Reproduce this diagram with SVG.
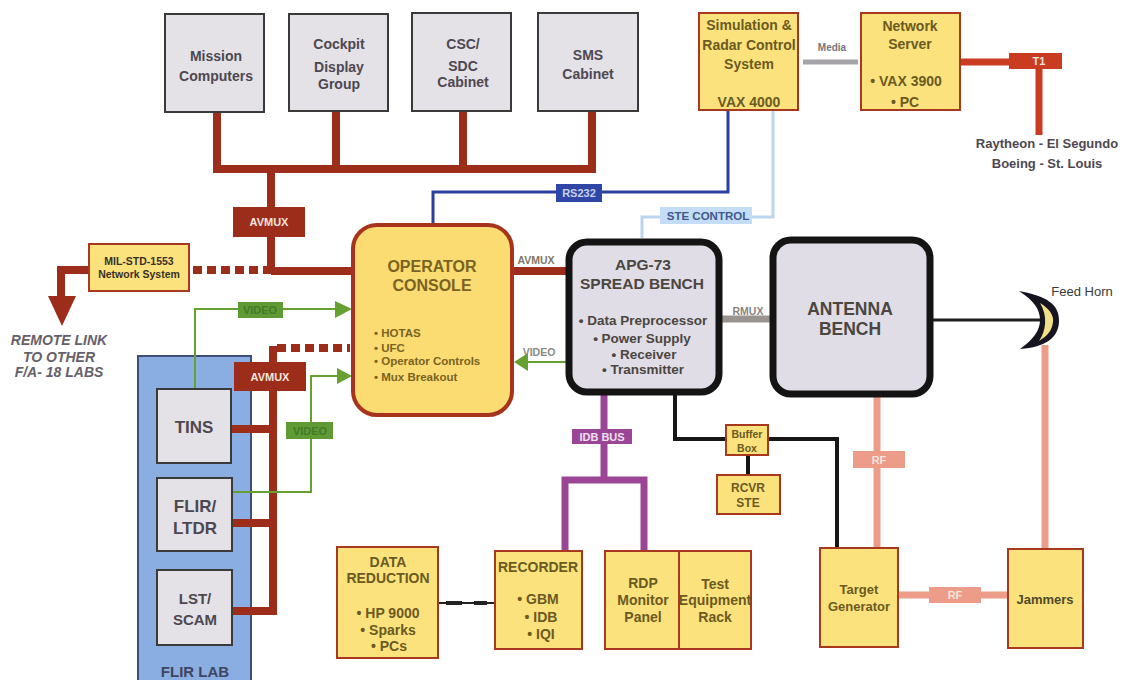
<svg xmlns="http://www.w3.org/2000/svg" width="1123" height="680" viewBox="0 0 1123 680">
<style>
text{font-family:"Liberation Sans",Arial,sans-serif;text-anchor:middle;font-weight:700}
.g{fill:#e4e1e7;stroke:#3a3a3a;stroke-width:2}
.y{fill:#fbe27c;stroke:#a8391f;stroke-width:2}
.b{fill:#e0dde6;stroke:#141414;stroke-width:7}
.tg{fill:#4d4850;font-size:14px}
.ty{fill:#6b5a22;font-size:14px}
.tk{fill:#4b4640;font-size:14px}
.w{fill:#f4e4dc;font-size:11px}
.mux{fill:none;stroke:#9c2d1a;stroke-width:8}
.vid{fill:none;stroke:#66a030;stroke-width:2}
.blk{fill:none;stroke:#161616;stroke-width:4}
.rf{fill:none;stroke:#ee9c8a;stroke-width:7}
.idb{fill:none;stroke:#9a4596;stroke-width:7}
</style>
<g id="flir-lab"><rect x="138" y="356" width="113" height="330" fill="#8aade2" stroke="#3d4f78" stroke-width="2"/><text x="195" y="677" font-size="15" fill="#3f4560">FLIR LAB</text></g>
<g id="connectors">
<path class="mux" d="M217 112V169M336 111V169M463 111V169M592 111V169M213 169H596M271 169V272M271 271H352"/>
<path class="mux" d="M193 270H271" stroke-dasharray="9 5"/>
<path class="mux" d="M89 270H61V298"/>
<polygon points="48,296 76,296 62,326" fill="#9c2d1a"/>
<path class="mux" d="M273 346V614M232 429H273M232 523H273M232 611H277"/>
<path class="mux" d="M277 348H350" stroke-dasharray="9 5"/>
<path class="vid" d="M195 389V309H337"/>
<polygon points="335,301 335,318 352,309" fill="#66a030"/>
<path class="vid" d="M232 492H311V376H338"/>
<polygon points="337,368 337,384 352,376" fill="#66a030"/>
<path class="mux" d="M512 271H567"/>
<path class="vid" d="M567 362H525"/>
<polygon points="528,353 528,371 514,362" fill="#66a030"/>
<path d="M433 224V192H728V110" fill="none" stroke="#2a3f9e" stroke-width="3"/>
<path d="M642 238V217H773V110" fill="none" stroke="#bcd6f2" stroke-width="3"/>
<path d="M803 62H858" fill="none" stroke="#a5a3a8" stroke-width="5"/>
<path d="M960 62H1040M1039 62V135" fill="none" stroke="#c93c22" stroke-width="7"/>
<path d="M720 319H771" fill="none" stroke="#9a9490" stroke-width="7"/>
<path d="M930 320H1042" fill="none" stroke="#202020" stroke-width="3"/>
<path class="rf" d="M877 394V548M1045 345V549M898 595H1008"/>
<path class="blk" d="M675 392V439H726M768 439H837V548M748 455V475"/>
<path class="idb" d="M604 392V480M565 550V480H644V550"/>
<path d="M438 603H495" fill="none" stroke="#222" stroke-width="2"/>
<path d="M446 603H462M474 603H487" fill="none" stroke="#222" stroke-width="4"/>
</g>
<g id="mission"><rect class="g" x="165" y="14" width="99" height="98"/><text class="tg" x="216" y="61">Mission</text><text class="tg" x="216" y="81">Computers</text></g>
<g id="cockpit"><rect class="g" x="289" y="14" width="99" height="97"/><text class="tg" x="339" y="49">Cockpit</text><text class="tg" x="339" y="72">Display</text><text class="tg" x="339" y="89">Group</text></g>
<g id="csc"><rect class="g" x="412" y="13" width="99" height="98"/><text class="tg" x="463" y="49">CSC/</text><text class="tg" x="463" y="71">SDC</text><text class="tg" x="463" y="87">Cabinet</text></g>
<g id="sms"><rect class="g" x="538" y="13" width="100" height="98"/><text class="tg" x="588" y="60">SMS</text><text class="tg" x="588" y="79">Cabinet</text></g>
<g id="sim"><rect class="y" x="699" y="13" width="99" height="97"/><text class="ty" x="749" y="30">Simulation &amp;</text><text class="ty" x="749" y="50">Radar Control</text><text class="ty" x="749" y="69">System</text><text class="ty" x="749" y="107">VAX 4000</text></g>
<g id="server"><rect class="y" x="861" y="13" width="99" height="97"/><text class="ty" x="910" y="31">Network</text><text class="ty" x="910" y="49">Server</text><text class="ty" x="906" y="86">• VAX 3900</text><text class="ty" x="905" y="107">• PC</text></g>
<g id="t1"><rect x="1009" y="53" width="53" height="16" fill="#c93c22"/><text class="w" x="1039" y="65">T1</text><text class="tg" x="1047" y="148" style="font-size:13px">Raytheon - El Segundo</text><text class="tg" x="1047" y="168" style="font-size:13px">Boeing - St. Louis</text></g>
<text id="media" x="832" y="51" style="font-size:10px" fill="#77757a">Media</text>
<g id="avmux1"><rect x="233" y="207" width="72" height="30" fill="#9c2d1a"/><text class="w" x="269" y="226">AVMUX</text></g>
<g id="avmux2"><rect x="234" y="362" width="72" height="29" fill="#9c2d1a"/><text class="w" x="270" y="381">AVMUX</text></g>
<g id="mil"><rect class="y" x="89" y="244" width="100" height="47"/><text x="139" y="265" style="font-size:10.5px" fill="#3a3024">MIL-STD-1553</text><text x="139" y="278" style="font-size:10.5px" fill="#3a3024">Network System</text></g>
<g id="remote" fill="#66606a" style="font-size:14px;font-style:italic"><text x="59" y="345">REMOTE LINK</text><text x="59" y="362">TO OTHER</text><text x="59" y="377">F/A- 18 LABS</text></g>
<g id="video1"><rect x="238" y="302" width="45" height="16" fill="#5f9a35"/><text x="260" y="314" style="font-size:11px" fill="#447a28">VIDEO</text></g>
<g id="video2"><rect x="286" y="422" width="47" height="17" fill="#5f9a35"/><text x="310" y="435" style="font-size:11px" fill="#447a28">VIDEO</text></g>
<g id="tins"><rect class="g" x="157" y="389" width="74" height="74"/><text class="tg" x="194" y="433" style="font-size:17px">TINS</text></g>
<g id="flir"><rect class="g" x="157" y="478" width="75" height="73"/><text class="tg" x="195" y="512" style="font-size:17px">FLIR/</text><text class="tg" x="195" y="534" style="font-size:17px">LTDR</text></g>
<g id="lst"><rect class="g" x="157" y="570" width="75" height="75"/><text class="tg" x="195" y="604" style="font-size:15px">LST/</text><text class="tg" x="195" y="625" style="font-size:15px">SCAM</text></g>
<g id="console"><rect x="353" y="225" width="159" height="190" rx="24" fill="#fbdc72" stroke="#a8331c" stroke-width="4"/><g fill="#7a6322"><text x="432" y="272" style="font-size:16px">OPERATOR</text><text x="432" y="291" style="font-size:16px">CONSOLE</text></g>
<g fill="#7a6322" style="font-size:11.5px"><text x="374" y="337" style="text-anchor:start">• HOTAS</text><text x="374" y="352" style="text-anchor:start">• UFC</text><text x="374" y="365" style="text-anchor:start">• Operator Controls</text><text x="374" y="381" style="text-anchor:start">• Mux Breakout</text></g></g>
<text id="avmux3" x="536" y="264" style="font-size:10.5px" fill="#7f7868">AVMUX</text>
<text id="video3" x="539" y="356" style="font-size:10.5px" fill="#8a8a80">VIDEO</text>
<g id="apg"><rect class="b" x="569" y="242" width="150" height="150" rx="18"/><text class="tk" x="643" y="270" style="font-size:15.5px">APG-73</text><text class="tk" x="642" y="289" style="font-size:15.5px">SPREAD BENCH</text><g fill="#4b4640" style="font-size:13.5px"><text x="643" y="325">• Data Preprocessor</text><text x="642" y="343">• Power Supply</text><text x="644" y="359">• Receiver</text><text x="643" y="374">• Transmitter</text></g></g>
<g id="rs232"><rect x="556" y="184" width="46" height="18" fill="#2f46a6"/><text x="579" y="197" style="font-size:11px" fill="#c8d0ec">RS232</text></g>
<g id="ste"><rect x="660" y="207" width="92" height="17" fill="#c4dcf5"/><text x="708" y="220" style="font-size:11.5px" fill="#3d5a8c">STE CONTROL</text></g>
<text id="rmux" x="748" y="315" style="font-size:10.5px" fill="#8a8480">RMUX</text>
<g id="antenna"><rect class="b" x="773" y="240" width="157" height="154" rx="18"/><text class="tk" x="850" y="315" style="font-size:17.5px">ANTENNA</text><text class="tk" x="850" y="335" style="font-size:17.5px">BENCH</text></g>
<g id="horn"><path d="M1019 291C1046 296 1060 304 1059 322C1058 338 1046 347 1020 349C1034 339 1040 330 1040 320C1040 309 1033 300 1019 291Z" fill="#161420"/><path d="M1040 303C1050 309 1054 316 1053 322C1052 331 1047 336 1039 341C1046 331 1048 316 1040 303Z" fill="#f0e088"/><text x="1082" y="296" style="font-size:13px;font-weight:400" fill="#3a3a3a">Feed Horn</text></g>
<g id="rf1"><rect x="853" y="451" width="52" height="17" fill="#ee9c8a"/><text class="w" x="879" y="464">RF</text></g>
<g id="rf2"><rect x="929" y="587" width="52" height="16" fill="#ee9c8a"/><text class="w" x="955" y="599">RF</text></g>
<g id="target"><rect class="y" x="820" y="548" width="78" height="99"/><text class="ty" x="859" y="594" style="font-size:13px">Target</text><text class="ty" x="859" y="611" style="font-size:13px">Generator</text></g>
<g id="jammers"><rect class="y" x="1008" y="549" width="75" height="99"/><text class="ty" x="1045" y="604" style="font-size:13px;fill:#4f4a2a">Jammers</text></g>
<g id="buffer"><rect class="y" x="726" y="425" width="42" height="30"/><text class="ty" x="747" y="438" style="font-size:10.5px">Buffer</text><text class="ty" x="747" y="452" style="font-size:10.5px">Box</text></g>
<g id="rcvr"><rect class="y" x="717" y="475" width="63" height="39"/><text class="ty" x="748" y="492" style="font-size:12px">RCVR</text><text class="ty" x="748" y="507" style="font-size:12px">STE</text></g>
<g id="idbbus"><rect x="572" y="429" width="60" height="15" fill="#9a4596"/><text x="602" y="441" style="font-size:11px" fill="#eee0ee">IDB BUS</text></g>
<g id="data"><rect class="y" x="337" y="547" width="101" height="111"/><text class="ty" x="388" y="567">DATA</text><text class="ty" x="388" y="583">REDUCTION</text><text class="ty" x="388" y="618">• HP 9000</text><text class="ty" x="388" y="635">• Sparks</text><text class="ty" x="389" y="651">• PCs</text></g>
<g id="recorder"><rect class="y" x="495" y="551" width="87" height="98"/><text class="ty" x="538" y="572">RECORDER</text><text class="ty" x="538" y="604">• GBM</text><text class="ty" x="541" y="622">• IDB</text><text class="ty" x="541" y="639">• IQI</text></g>
<g id="rdp"><rect class="y" x="605" y="551" width="74" height="98"/><text class="ty" x="643" y="588">RDP</text><text class="ty" x="643" y="605">Monitor</text><text class="ty" x="643" y="622">Panel</text></g>
<g id="test"><rect class="y" x="679" y="551" width="72" height="98"/><text class="ty" x="715" y="589">Test</text><text class="ty" x="715" y="605">Equipment</text><text class="ty" x="715" y="622">Rack</text></g>
</svg>
